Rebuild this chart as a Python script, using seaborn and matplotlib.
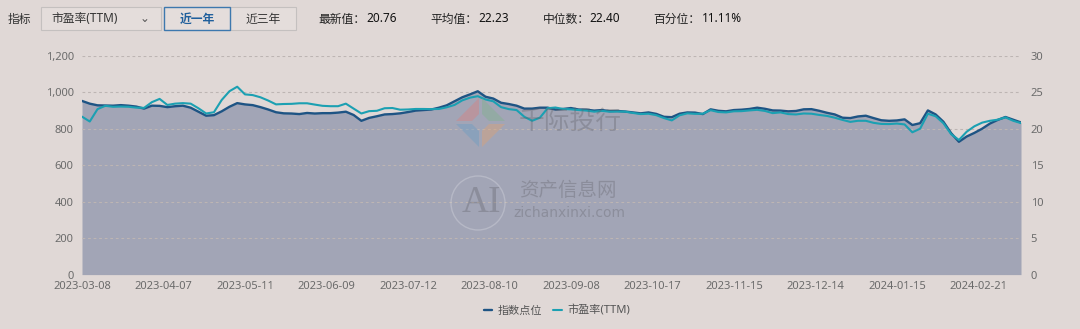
import numpy as np
import pandas as pd
import matplotlib
matplotlib.use("Agg")
import matplotlib.pyplot as plt
import seaborn as sns
from matplotlib.patches import Rectangle, Polygon, Ellipse

# ---------------- data ----------------
tick_labels = ["2023-03-08", "2023-04-07", "2023-05-11", "2023-06-09", "2023-07-12",
               "2023-08-10", "2023-09-08", "2023-10-17", "2023-11-15", "2023-12-14",
               "2024-01-15", "2024-02-21"]
days_per_tick = 21      # trading days between labels
days_per_point = 2      # sampled every 2 trading days

index_points = [952, 937, 928, 927, 926, 929, 926, 921, 910, 926, 925, 918, 923, 926, 915, 893,
                871, 874, 895, 920, 940, 933, 929, 918, 905, 890, 884, 883, 880, 886, 883,
                885, 885, 888, 893, 875, 843, 859, 868, 878, 880, 884, 891, 899, 902, 905, 915,
                928, 950, 972, 988, 1005, 975, 965, 942, 935, 926, 910, 910, 915, 915, 905,
                908, 913, 905, 904, 899, 902, 896, 897, 894, 889, 884, 889, 881, 865, 863, 882,
                889, 888, 880, 906, 898, 895, 902, 904, 908, 915, 909, 900, 899, 895, 897,
                906, 907, 898, 887, 878, 860, 858, 867, 871, 858, 846, 843, 845, 851, 820, 830,
                900, 878, 838, 775, 728, 757, 777, 800, 828, 848, 864, 849, 834]

pe_ttm = [21.65, 20.98, 22.68, 23.13, 23.00, 23.03, 23.00, 22.88, 22.85, 23.63, 24.08, 23.25,
          23.43, 23.50, 23.43, 22.80, 22.08, 22.25, 23.93, 25.13, 25.75, 24.70, 24.60, 24.30,
          23.85, 23.33, 23.38, 23.40, 23.48, 23.48, 23.30,
          23.13, 23.08, 23.08, 23.43, 22.75, 22.08, 22.40, 22.45, 22.80, 22.83, 22.60, 22.63,
          22.70, 22.70, 22.68, 22.70, 22.93, 23.25, 23.88, 24.25, 24.45, 24.00, 23.75, 22.95,
          22.68, 22.55, 21.63, 21.08, 21.50, 22.80, 22.90,
          22.70, 22.65, 22.55, 22.48, 22.33, 22.43, 22.33, 22.35, 22.33, 22.15, 22.00, 22.05,
          21.85, 21.45, 21.13, 21.83, 22.10, 22.03, 22.05, 22.53, 22.28, 22.23, 22.38, 22.40,
          22.50, 22.58, 22.43, 22.13, 22.23, 22.00, 21.95,
          22.08, 22.05, 21.88, 21.75, 21.50, 21.20, 20.93, 21.08, 21.08, 20.80, 20.65, 20.63,
          20.70, 20.58, 19.50, 20.00, 22.05, 21.70, 20.75, 19.25, 18.45, 19.58, 20.33, 20.83,
          21.08, 21.23, 21.55, 21.08, 20.76]

left_ticks = [0, 200, 400, 600, 800, 1000, 1200]
right_ticks = [0, 5, 10, 15, 20, 25, 30]

summary_labels = ["最新值：", "平均值：", "中位数：", "百分位："]
summary_values = ["20.76", "22.23", "22.40", "11.11%"]
series_names = ["指数点位", "市盈率(TTM)"]

# ---------------- style ----------------
BG = "#e0d8d6"
DARK = "#1e5484"
TEAL = "#1ba0b2"
FILL = "#a2a5b6"
GRID = "#bdb5b3"
TXT = "#6b6b6b"

sns.set_style("white")
plt.rcParams["font.family"] = ["Noto Sans", "Noto Sans CJK SC", "DejaVu Sans"]

df = pd.DataFrame({
    "day": np.arange(len(index_points)) * days_per_point,
    "idx": index_points,
    "pe": pe_ttm,
})

W, H = 1080, 329
fig = plt.figure(figsize=(W / 100, H / 100), dpi=100, facecolor=BG)


def fx(px):
    return px / W


def fy(py):
    return 1 - py / H


ax = fig.add_axes([fx(82), fy(274.6), fx(1021) - fx(82), fy(55.7) - fy(274.6)])
ax.set_facecolor("none")
ax2 = ax.twinx()

# area + index line
ax.fill_between(df["day"], df["idx"], 0, color=FILL, lw=0, zorder=1)
sns.lineplot(data=df, x="day", y="idx", ax=ax, color=DARK, lw=1.7, zorder=3,
             label=series_names[0], legend=False)
sns.lineplot(data=df, x="day", y="pe", ax=ax2, color=TEAL, lw=1.5, zorder=3,
             label=series_names[1], legend=False)

last_day = df["day"].iloc[-1]
ax.set_xlim(0, last_day)
ax.set_ylim(0, 1200)
ax2.set_ylim(0, 30)

ax.set_xticks(np.arange(len(tick_labels)) * days_per_tick)
ax.set_xticklabels(tick_labels)
ax.set_yticks(left_ticks)
ax.set_yticklabels([f"{v:,}" for v in left_ticks])
ax2.set_yticks(right_ticks)
ax2.set_yticklabels([str(v) for v in right_ticks])

for a in (ax, ax2):
    for s in a.spines.values():
        s.set_visible(False)
    a.set_xlabel("")
    a.set_ylabel("")
ax.tick_params(axis="x", length=0, pad=4.5, labelsize=8, labelcolor=TXT)
ax.tick_params(axis="y", length=0, pad=6, labelsize=8, labelcolor=TXT)
ax2.tick_params(axis="y", length=0, pad=7, labelsize=8, labelcolor=TXT)
ax.grid(axis="y", color=GRID, lw=0.8, linestyle=(0, (2.5, 2.5)), zorder=2)
ax.grid(axis="x", visible=False)
ax.set_axisbelow(False)

# ---------------- watermark ----------------
wm = dict(color="#5f5f66", alpha=0.33, transform=fig.transFigure, zorder=10)
fig.text(fx(570), fy(122), "千际投行", fontsize=18.5, ha="center", va="center",
         family=["Noto Sans CJK SC"], **wm)
logo = [
    ([(456, 121), (479, 98), (479, 114), (472, 121)], "#d97f7f"),
    ([(482, 98), (505, 121), (489, 121), (482, 114)], "#7fb38c"),
    ([(456, 124), (472, 124), (479, 131), (479, 147)], "#6b9cc4"),
    ([(505, 124), (482, 147), (482, 131), (489, 124)], "#e0a272"),
]
for pts, col in logo:
    fig.add_artist(Polygon([(fx(x), fy(y)) for x, y in pts], closed=True,
                           transform=fig.transFigure, facecolor=col, alpha=0.42,
                           lw=0, zorder=10))
fig.add_artist(Ellipse((fx(478), fy(203)), 54 / W, 54 / H, transform=fig.transFigure,
                       facecolor="none", edgecolor="#ffffff", alpha=0.22, lw=1,
                       zorder=10))
fig.text(fx(481), fy(203), "AI", fontsize=27, ha="center", va="center",
         family=["Liberation Serif"], **wm)
fig.text(fx(568), fy(190), "资产信息网", fontsize=14, ha="center", va="center",
         family=["Noto Sans CJK SC"], **wm)
fig.text(fx(569), fy(213), "zichanxinxi.com", fontsize=10, ha="center", va="center",
         family=["DejaVu Sans"], **wm)

# ---------------- top controls ----------------
fig.text(fx(8), fy(19), "指标", fontsize=8.5, color="#333333", va="center",
         transform=fig.transFigure)
fig.add_artist(Rectangle((fx(40.5), fy(29.5)), fx(160.5) - fx(40.5), fy(7.5) - fy(29.5),
                         transform=fig.transFigure, facecolor="#e4dddb",
                         edgecolor="#c4c0bf", lw=0.8))
fig.text(fx(51), fy(19), "市盈率(TTM)", fontsize=8.5, color="#333333", va="center",
         transform=fig.transFigure)
fig.text(fx(145), fy(18), "⌄", fontsize=8.5, color="#555555", va="center", ha="center",
         transform=fig.transFigure, family=["DejaVu Sans"])
fig.add_artist(Rectangle((fx(230), fy(29.5)), fx(296) - fx(230), fy(7.5) - fy(29.5),
                         transform=fig.transFigure, facecolor="#e4dddb",
                         edgecolor="#c4c0bf", lw=0.8))
fig.add_artist(Rectangle((fx(163.5), fy(29.5)), fx(230) - fx(163.5), fy(7.5) - fy(29.5),
                         transform=fig.transFigure, facecolor="#e4dddb",
                         edgecolor="#3d78ae", lw=1.0))
fig.text(fx(197), fy(19), "近一年", fontsize=8.5, color="#1f5f9c", va="center", ha="center",
         fontweight="bold", transform=fig.transFigure)
fig.text(fx(263), fy(19), "近三年", fontsize=8.5, color="#333333", va="center", ha="center",
         transform=fig.transFigure)

label_x = [318.5, 430.5, 542.7, 653.3]
value_x = [366.5, 478.0, 589.3, 701.7]
for lx, vx, lab, val in zip(label_x, value_x, summary_labels, summary_values):
    fig.text(fx(lx), fy(19), lab, fontsize=8.5, color="#222222", va="center",
             transform=fig.transFigure)
    fig.text(fx(vx), fy(19), val, fontsize=8.5, color="#111111", va="center",
             fontweight="bold", transform=fig.transFigure)

# ---------------- legend ----------------
h1 = ax.get_lines()[0]
h2 = ax2.get_lines()[0]
leg = fig.legend([h1, h2], series_names, loc="center", bbox_to_anchor=(fx(557), fy(311)),
                 ncol=2, frameon=False, fontsize=8, handlelength=0.75, handletextpad=0.5,
                 columnspacing=1.0, borderpad=0)
for t in leg.get_texts():
    t.set_color("#555555")

fig.savefig("out.png", dpi=100, facecolor=BG)
